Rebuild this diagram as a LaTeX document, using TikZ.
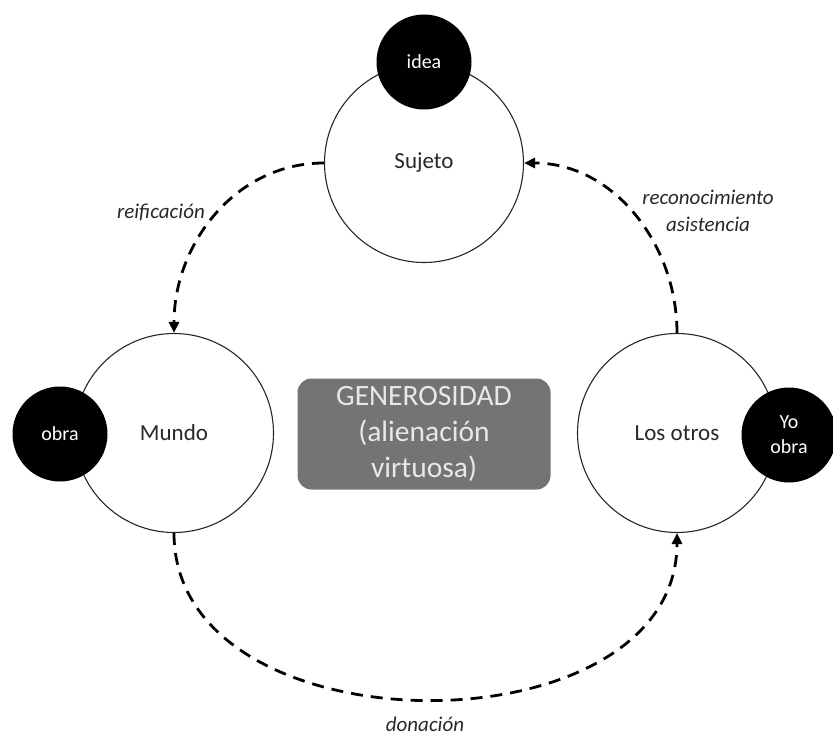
\documentclass[tikz,border=0pt]{standalone}
\usepackage{fontspec}
\setmainfont{Carlito}
\usetikzlibrary{arrows.meta}
\definecolor{boxgray}{RGB}{116,116,116}
\definecolor{boxtext}{RGB}{232,232,232}
\definecolor{ink}{RGB}{40,40,40}
\begin{document}
\begin{tikzpicture}[x=1pt,y=-1pt,
  big/.style={circle,draw=black!85,line width=1.1pt,fill=white,minimum size=199pt,inner sep=0pt,text=ink,font=\fontsize{23}{28}\selectfont},
  small/.style={circle,fill=black,minimum size=95pt,inner sep=0pt,text=white,align=center,font=\fontsize{20}{25}\selectfont},
  flow/.style={line width=2.8pt,dash pattern=on 12pt off 8pt,-{Triangle[length=11pt,width=10pt]}},
  lbl/.style={font=\itshape\fontsize{21}{27}\selectfont,text=ink,align=center},
  genbox/.style={rounded corners=14pt,fill=boxgray,minimum width=253pt,minimum height=111pt,inner sep=0pt,text=boxtext,align=center,font=\fontsize{29.5}{36}\selectfont},
]
\useasboundingbox (0,0) rectangle (833,736);
\node[big] (sujeto) at (424,163) {Sujeto};
\node[big] (mundo) at (174,433) {Mundo};
\node[big] (otros) at (677,433) {Los otros};
\node[small] (idea) at (424,62) {idea};
\node[small] (obra) at (60,434) {obra};
\node[small] (yoobra) at (789,435) {Yo\\obra};
\node[genbox] (gen) at (424,434) {GENEROSIDAD\\(alienación\\virtuosa)};
\draw[flow] (sujeto.west) to[out=180,in=90] (mundo.north);
\draw[flow] (otros.north) to[out=90,in=0] (sujeto.east);
\draw[flow] (mundo.south) to[out=-90,in=-90,looseness=1.13] (otros.south);
\node[lbl] (reif) at (161,212) {reificación};
\node[lbl] (recon) at (708,211) {reconocimiento\\asistencia};
\node[lbl] (don) at (425,724) {donación};
\end{tikzpicture}
\end{document}
